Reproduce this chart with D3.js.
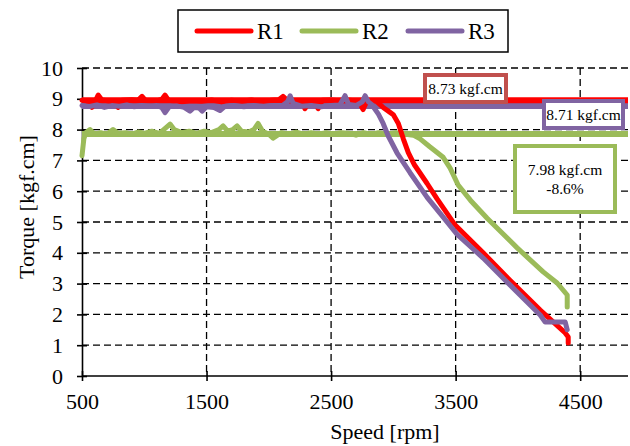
<!DOCTYPE html>
<html>
<head>
<meta charset="utf-8">
<script src="https://cdn.jsdelivr.net/npm/d3@7"></script>
</head>
<body style="margin:0;padding:0;background:#fff">
<svg id="chart" width="630" height="446" style="display:block;background:#fff"></svg>
<script>
// Torque vs speed for three rotors: [speed rpm, torque kgf.cm]
const seriesNames = ["R1", "R2", "R3"];
const seriesColors = ["#ff0000", "#9bbb59", "#8064a2"];

const r1 = [
  [500,8.95],[540,8.92],[580,8.72],[610,8.95],[630,9.12],[660,8.96],[720,8.93],[760,8.9],
  [790,8.72],[820,8.95],[900,8.97],[950,8.95],[982,9.08],[1010,8.95],[1100,8.93],[1140,8.98],
  [1167,9.12],[1195,8.95],[1300,8.9],[1380,8.94],[1460,8.92],[1540,8.96],[1620,8.9],[1700,8.95],
  [1780,8.92],[1860,8.96],[1940,8.9],[2020,8.95],[2080,8.97],[2114,9.08],[2150,8.94],[2230,8.92],
  [2260,8.93],[2290,8.68],[2330,8.93],[2365,8.93],[2396,8.68],[2430,8.95],[2500,8.96],[2580,8.93],
  [2650,8.95],[2720,8.92],[2757,8.65],[2790,8.95],[2860,8.93],[2918,8.72],[2960,8.6],[3000,8.48],
  [3040,8.2],[3080,7.7],[3120,7.25],[3170,6.85],[3271,6.25],[3351,5.75],[3496,4.9],[3721,4.0],
  [3938,3.1],[4179,2.14],[4380,1.4],[4404,1.27],[4404,1.07]
];

const r2 = [
  [500,7.15],[515,7.7],[530,7.9],[564,8.0],[600,7.85],[650,7.9],[700,7.85],[749,8.0],
  [790,7.88],[850,7.9],[900,7.85],[950,7.92],[1000,7.88],[1060,7.95],[1120,7.88],[1170,8.05],
  [1207,8.18],[1240,8.0],[1300,7.9],[1360,7.95],[1420,7.88],[1480,7.95],[1540,7.9],[1600,8.0],
  [1633,8.12],[1670,7.95],[1710,8.0],[1745,8.12],[1780,7.95],[1840,7.92],[1880,8.0],[1914,8.2],
  [1950,7.95],[2000,7.85],[2034,7.72],[2100,7.9],[2160,7.85],[2220,7.92],[2280,7.85],[2340,7.9],
  [2400,7.85],[2460,7.9],[2520,7.85],[2580,7.9],[2640,7.88],[2700,7.82],[2760,7.9],[2820,7.85],
  [2880,7.9],[2950,7.85],[3020,7.9],[3100,7.85],[3160,7.82],[3215,7.7],[3290,7.45],[3400,7.1],
  [3456,6.75],[3520,6.2],[3620,5.7],[3753,5.12],[3994,4.16],[4203,3.38],[4315,3.02],[4396,2.63],
  [4396,2.24]
];

const r3 = [
  [500,8.78],[560,8.75],[620,8.8],[680,8.72],[740,8.78],[800,8.76],[860,8.8],[920,8.74],
  [980,8.78],[1040,8.75],[1100,8.78],[1140,8.72],[1167,8.55],[1200,8.74],[1260,8.77],[1320,8.72],
  [1367,8.6],[1400,8.72],[1440,8.7],[1464,8.6],[1500,8.74],[1560,8.72],[1608,8.62],[1650,8.76],
  [1720,8.78],[1800,8.74],[1880,8.78],[1960,8.76],[2040,8.78],[2110,8.78],[2150,8.9],[2171,9.1],
  [2195,8.85],[2260,8.76],[2340,8.78],[2420,8.74],[2500,8.78],[2570,8.8],[2612,9.1],[2640,8.82],
  [2700,8.78],[2750,8.9],[2773,9.1],[2800,8.9],[2829,8.8],[2880,8.5],[2918,8.2],[2958,7.8],
  [3030,7.24],[3134,6.6],[3271,5.8],[3400,5.16],[3512,4.6],[3721,3.83],[3938,2.95],[4179,1.98],
  [4219,1.75],[4380,1.75],[4396,1.5]
];

// Flat plateau markers for each rotor (R1, R2, R3)
const plateauLevels = [8.95, 7.86, 8.77];

// Callout texts
const calloutR1 = ["8.73 kgf.cm"];
const calloutR3 = ["8.71 kgf.cm"];
const calloutR2 = ["7.98 kgf.cm", "-8.6%"];

const xTicks = [500, 1500, 2500, 3500, 4500];
const xGrid = [1500, 2500, 3500, 4500];
const yTicks = [0, 1, 2, 3, 4, 5, 6, 7, 8, 9, 10];

const FONT = "'Liberation Serif', 'Times New Roman', Times, serif";

const svg = d3.select("#chart").attr("font-family", FONT);
const x = d3.scaleLinear().domain([500, 4900]).range([82, 630]);
const y = d3.scaleLinear().domain([0, 10]).range([376, 68]);

// dashed grid
const grid = svg.append("g").attr("stroke", "#000").attr("stroke-width", 1.3)
  .attr("stroke-dasharray", "7,4");
grid.selectAll("line.h").data(yTicks.filter(d => d > 0)).join("line")
  .attr("x1", x(500)).attr("x2", 628).attr("y1", d => y(d)).attr("y2", d => y(d));
grid.selectAll("line.v").data(xGrid).join("line")
  .attr("x1", d => x(d)).attr("x2", d => x(d)).attr("y1", y(10)).attr("y2", y(0));

// axes
const yAxis = d3.axisLeft(y).tickValues(yTicks).tickSizeOuter(0);
const gy = svg.append("g").attr("transform", `translate(${x(500)},0)`).call(yAxis)
  .attr("font-family", FONT);
gy.select(".domain").attr("stroke", "#000").attr("stroke-width", 1.6);
gy.selectAll(".tick line").attr("x1", -5).attr("x2", 5).attr("stroke-width", 1.6);
gy.selectAll(".tick text").attr("x", -19).attr("font-size", 22).attr("fill", "#000");

const xAxis = d3.axisBottom(x).tickValues(xTicks).tickSizeOuter(0).tickFormat(d3.format("d"));
const gx = svg.append("g").attr("transform", `translate(0,${y(0)})`).call(xAxis)
  .attr("font-family", FONT);
gx.select(".domain").attr("stroke", "#000").attr("stroke-width", 1.6).attr("d", `M${x(500)},0H628`);
gx.selectAll(".tick line").attr("y1", -5).attr("y2", 5).attr("stroke-width", 1.6);
gx.selectAll(".tick text").attr("y", 17).attr("font-size", 22).attr("fill", "#000");

// axis titles
svg.append("text").attr("x", 385).attr("y", 439).attr("text-anchor", "middle")
  .attr("font-size", 22).text("Speed [rpm]");
svg.append("text").attr("transform", "translate(34,207) rotate(-90)").attr("text-anchor", "middle")
  .attr("font-size", 22).text("Torque [kgf.cm]");

// plateau lines
const levelOrder = [1, 2, 0];
svg.append("g").selectAll("line").data(levelOrder).join("line")
  .attr("x1", x(500)).attr("x2", 628)
  .attr("y1", i => y(plateauLevels[i])).attr("y2", i => y(plateauLevels[i]))
  .attr("stroke", i => seriesColors[i]).attr("stroke-width", 6);

// measured curves
const line = d3.line().x(d => x(d[0])).y(d => y(d[1])).curve(d3.curveLinear);
const allSeries = [r2, r1, r3];
const allColors = [seriesColors[1], seriesColors[0], seriesColors[2]];
svg.append("g").selectAll("path").data(allSeries).join("path")
  .attr("d", line).attr("fill", "none")
  .attr("stroke", (d, i) => allColors[i]).attr("stroke-width", 5)
  .attr("stroke-linejoin", "round").attr("stroke-linecap", "round");

// callout boxes
function callout(bx, by, bw, bh, color, lines, fs) {
  const g = svg.append("g");
  g.append("rect").attr("x", bx).attr("y", by).attr("width", bw).attr("height", bh)
    .attr("fill", "#fff").attr("stroke", color).attr("stroke-width", 4);
  const lh = fs * 1.2;
  const y0 = by + bh / 2 - (lines.length - 1) * lh / 2;
  lines.forEach((t, i) => {
    g.append("text").attr("x", bx + bw / 2).attr("y", y0 + i * lh)
      .attr("text-anchor", "middle").attr("dominant-baseline", "central")
      .attr("font-size", fs).text(t);
  });
}
callout(425, 75, 81, 27, "#c0504d", calloutR1, 15.5);
callout(544, 101, 79, 27, "#8064a2", calloutR3, 15.5);
callout(515, 146, 100, 66, "#9bbb59", calloutR2, 15.5);

// legend
const lg = svg.append("g");
lg.append("rect").attr("x", 178).attr("y", 10).attr("width", 330).attr("height", 42)
  .attr("fill", "#fff").attr("stroke", "#000").attr("stroke-width", 1.5);
const legX = [197, 302, 408];
seriesNames.forEach((n, i) => {
  lg.append("line").attr("x1", legX[i]).attr("x2", legX[i] + 54).attr("y1", 31).attr("y2", 31)
    .attr("stroke", seriesColors[i]).attr("stroke-width", 5).attr("stroke-linecap", "round");
  lg.append("text").attr("x", legX[i] + 60).attr("y", 39).attr("font-size", 23).text(n);
});

// inline font on every label so it survives export
svg.selectAll("text").style("font-family", FONT);
</script>
</body>
</html>
